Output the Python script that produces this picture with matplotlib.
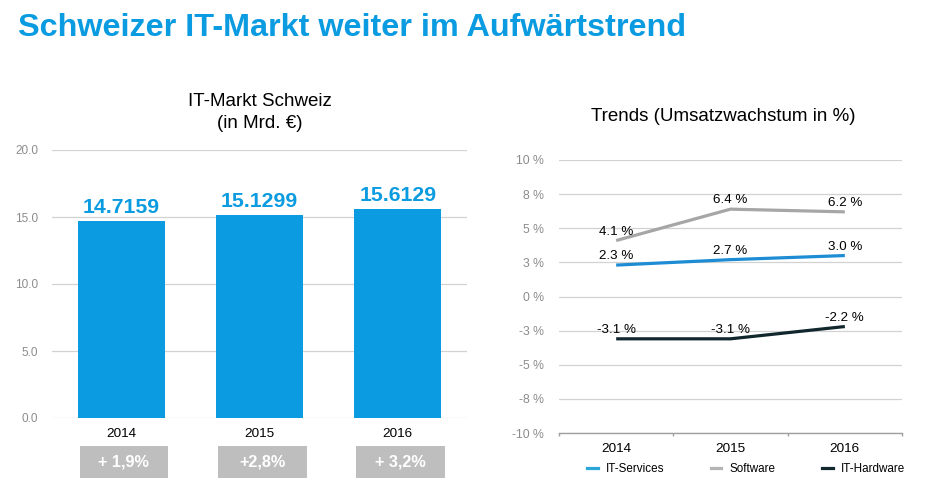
import matplotlib
matplotlib.use("Agg")
import matplotlib.pyplot as plt
import matplotlib.transforms as mtransforms
from matplotlib.patches import Rectangle
import numpy as np

plt.rcParams["font.family"] = ["Liberation Sans", "DejaVu Sans"]

# ─── data ────────────────────────────────────────────────────────────────────
years = ["2014", "2015", "2016"]
market = [14.7159, 15.1299, 15.6129]
growth = ["+ 1,9%", "+2,8%", "+ 3,2%"]

series_names = ["IT-Services", "Software", "IT-Hardware"]
it_services = [2.3, 2.7, 3.0]
software = [4.1, 6.4, 6.2]
it_hardware = [-3.1, -3.1, -2.2]

left_ticks = [0, 5, 10, 15, 20]
right_ticks = [-10, -7.5, -5, -2.5, 0, 2.5, 5, 7.5, 10]
right_tick_labels = ["-10 %", "-8 %", "-5 %", "-3 %", "0 %", "3 %", "5 %", "8 %", "10 %"]

# ─── style ───────────────────────────────────────────────────────────────────
BLUE = "#0A9BE0"
GRID = "#D2D2D2"
TICK_GREY = "#8C8C8C"
BOX_GREY = "#BEBEBE"
LINE_COLORS = ["#1D8CD4", "#A6A6A6", "#11272E"]
LEGEND_COLORS = ["#2AA6D8", "#B4B4B4", "#11272E"]

W, H = 933, 492
fig = plt.figure(figsize=(W / 100, H / 100), dpi=100)
fig.patch.set_facecolor("white")


def px_axes(x0, y_top, x1, y_bot):
    return fig.add_axes([x0 / W, 1 - y_bot / H, (x1 - x0) / W, (y_bot - y_top) / H])


fig.text(18 / W, 1 - 36 / H, "Schweizer IT-Markt weiter im Aufwärtstrend",
         fontsize=23.3, fontweight="bold", color=BLUE, ha="left", va="baseline")

# ─── left: bar chart ─────────────────────────────────────────────────────────
ax1 = px_axes(52, 150, 467, 418)
x = np.arange(len(years))
bars = ax1.bar(x, market, width=0.63, color=BLUE, zorder=3)
for xi, v in zip(x, market):
    ax1.annotate(f"{v:.4f}", (xi, v), xytext=(0, 3), textcoords="offset points",
                 ha="center", va="bottom", fontsize=15.3, fontweight="bold",
                 color=BLUE, zorder=4)
ax1.set_xlim(-0.5, 2.5)
ax1.set_ylim(0, 20)
ax1.set_yticks(left_ticks)
ax1.set_yticklabels([f"{t:.1f}" for t in left_ticks])
ax1.set_xticks(x)
ax1.set_xticklabels(years)
ax1.grid(axis="y", color=GRID, linewidth=0.9, zorder=0)
for s in ax1.spines.values():
    s.set_visible(False)
ax1.tick_params(axis="y", length=0, pad=10, labelsize=8.5, labelcolor=TICK_GREY)
ax1.tick_params(axis="x", length=0, pad=7, labelsize=9.7, labelcolor="black")

trans = mtransforms.blended_transform_factory(ax1.transData, fig.transFigure)
for xi, g in zip(x, growth):
    ax1.add_patch(Rectangle((xi + 0.02 - 0.32, 1 - 478 / H), 0.64, 32 / H,
                            transform=trans, facecolor=BOX_GREY,
                            edgecolor="none", clip_on=False))
    ax1.text(xi + 0.02, 1 - 462 / H, g, transform=trans, ha="center",
             va="center", fontsize=11.7, fontweight="bold", color="white")

fig.text(259.5 / W, 1 - 106 / H, "IT-Markt Schweiz", fontsize=13.5,
         ha="center", va="baseline", color="black")
fig.text(259.5 / W, 1 - 128 / H, "(in Mrd. €)", fontsize=13.5,
         ha="center", va="baseline", color="black")

# ─── right: line chart ───────────────────────────────────────────────────────
ax2 = px_axes(559, 160, 902, 433)
for name, vals, c in zip(series_names, [it_services, software, it_hardware], LINE_COLORS):
    ax2.plot(x, vals, color=c, linewidth=2.3, solid_capstyle="butt", zorder=3,
             label=name)
    for xi, v in zip(x, vals):
        ax2.annotate(f"{v:.1f} %", (xi, v), xytext=(0, 6.5), textcoords="offset points",
                     ha="center", va="center", fontsize=9.6, color="black", zorder=4)
ax2.set_xlim(-0.5, 2.5)
ax2.set_ylim(-10, 10)
ax2.set_yticks(right_ticks)
ax2.set_yticklabels(right_tick_labels)
ax2.grid(axis="y", color=GRID, linewidth=0.9, zorder=0)
ax2.set_xticks([-0.5, 0.5, 1.5, 2.5])
ax2.set_xticklabels([])
ax2.set_xticks(x, minor=True)
ax2.set_xticklabels(years, minor=True)
for k in ["top", "right", "left"]:
    ax2.spines[k].set_visible(False)
ax2.spines["bottom"].set_color("#A0A0A0")
ax2.spines["bottom"].set_linewidth(1.0)
ax2.tick_params(axis="y", length=0, pad=11, labelsize=8.8, labelcolor=TICK_GREY)
ax2.tick_params(axis="x", which="major", length=2.2, width=1.0, color="#A0A0A0",
                direction="out")
ax2.tick_params(axis="x", which="minor", length=0, pad=7.5, labelsize=9.7,
                labelcolor="black")

handles = [plt.Line2D([], [], color=c, linewidth=2.3) for c in LEGEND_COLORS]
ax2.legend(handles, series_names, loc="center left",
           bbox_to_anchor=((587 - 559) / 343, (433 - 469) / 273),
           ncol=3, frameon=False, fontsize=8.4, handlelength=0.9,
           handletextpad=0.7, columnspacing=4.0, borderpad=0, borderaxespad=0)

fig.text(723.5 / W, 1 - 121 / H, "Trends (Umsatzwachstum in %)", fontsize=13.5,
         ha="center", va="baseline", color="black")

fig.savefig("out.png", dpi=100, facecolor=fig.get_facecolor())
